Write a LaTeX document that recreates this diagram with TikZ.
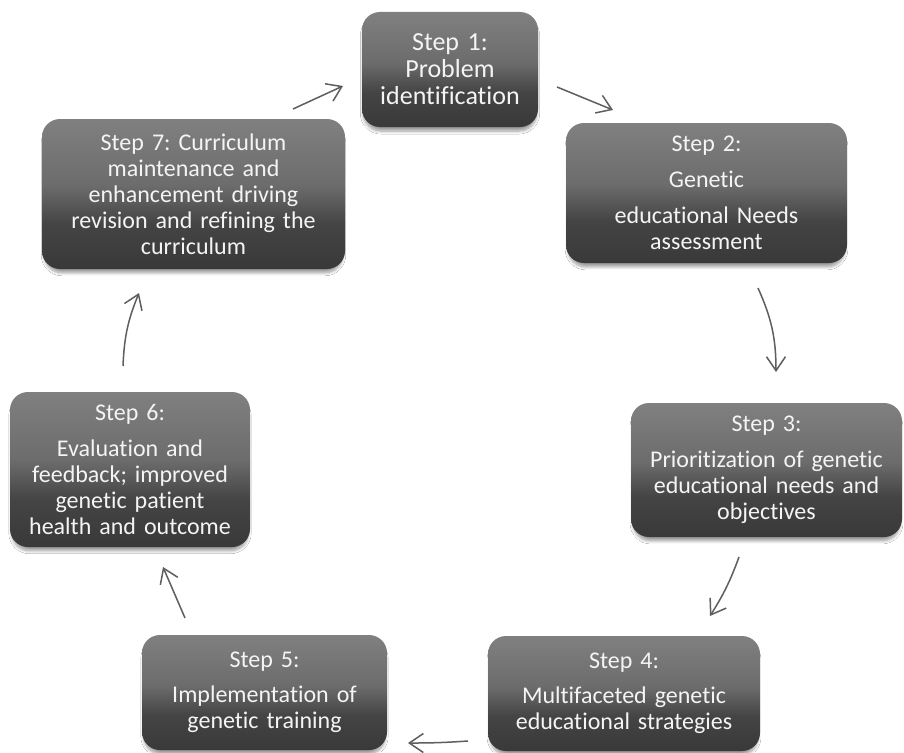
\documentclass[tikz,border=0pt]{standalone}
\usepackage{fontspec}
\setmainfont{Carlito}[Ligatures=NoCommon]
\usetikzlibrary{arrows.meta,shadows.blur}
\frenchspacing

\definecolor{boxdark}{HTML}{393939}
\definecolor{boxmid}{HTML}{444444}
\definecolor{boxlight}{HTML}{6C6C6C}
\definecolor{boxtop}{HTML}{808080}
\definecolor{boxtext}{HTML}{F4F4F4}
\definecolor{conncol}{HTML}{5E5E5E}

% vertical gradient: dark lower part, lighter upper part
\pgfdeclareverticalshading{stepshade}{100bp}{%
  color(0bp)=(boxdark); color(25bp)=(boxdark); color(40bp)=(boxmid);
  color(53bp)=(boxlight); color(75bp)=(boxtop); color(100bp)=(boxtop)}

\tikzset{
  stepbox/.style={rounded corners=18pt, shading=stepshade,
    blur shadow={shadow xshift=0pt, shadow yshift=-5pt, shadow scale=0.985,
      shadow opacity=40, shadow blur radius=3pt, shadow blur steps=8},
    text=boxtext, align=center, inner sep=0pt,
    font=\fontsize{24}{26}\selectfont},
  conn/.style={draw=conncol, line width=1.5pt,
    -{Straight Barb[length=14pt, width=19pt, line width=1.5pt]}}
}

\begin{document}
\begin{tikzpicture}[x=1pt, y=-1pt]
  \useasboundingbox[fill=white] (0,0) rectangle (904,752);

  % the seven steps of the cycle
  \node[stepbox, minimum width=176pt, minimum height=115pt, text width=170pt,
        font=\fontsize{26}{27}\selectfont] (s1) at (450,69.5)
    {Step 1:\\Problem\\identification};
  \node[stepbox, minimum width=281pt, minimum height=140pt, text width=270pt] (s2) at (706.5,193)
    {Step 2:\\[10pt]Genetic\\[10pt]educational Needs\\assessment};
  \node[stepbox, minimum width=271pt, minimum height=134pt, text width=265pt] (s3) at (766.5,470)
    {Step 3:\\[10pt]Prioritization of genetic\\educational needs and\\objectives};
  \node[stepbox, minimum width=272pt, minimum height=115pt, text width=265pt] (s4) at (624,693.5)
    {Step 4:\\[9pt]Multifaceted genetic\\educational strategies};
  \node[stepbox, minimum width=245pt, minimum height=115pt, text width=240pt] (s5) at (264.5,692.5)
    {Step 5:\\[9pt]Implementation of\\genetic training};
  \node[stepbox, minimum width=240pt, minimum height=155pt, text width=235pt] (s6) at (130,469.5)
    {Step 6:\\[10pt]Evaluation and\\feedback; improved\\genetic patient\\health and outcome};
  \node[stepbox, minimum width=303pt, minimum height=150pt, text width=298pt] (s7) at (193.5,194)
    {Step 7: Curriculum\\maintenance and\\enhancement driving\\revision and refining the\\curriculum};

  % connector end points between neighbouring steps
  \coordinate (a12) at (557,87);   \coordinate (b12) at (613,110);
  \coordinate (a23) at (758,288);  \coordinate (b23) at (776,372);
  \coordinate (a34) at (739,557);  \coordinate (b34) at (710,616);
  \coordinate (a45) at (468,741);  \coordinate (b45) at (408,743);
  \coordinate (a56) at (185,618);  \coordinate (b56) at (163,567);
  \coordinate (a67) at (123,366);  \coordinate (b67) at (139,293);
  \coordinate (a71) at (293,109);  \coordinate (b71) at (343,86);

  \draw[conn] (a12) -- (b12);
  \draw[conn] (a23) to[bend left=12] (b23);
  \draw[conn] (a34) to[bend left=6] (b34);
  \draw[conn] (a45) to[bend left=2] (b45);
  \draw[conn] (a56) -- (b56);
  \draw[conn] (a67) to[bend left=10] (b67);
  \draw[conn] (a71) -- (b71);
\end{tikzpicture}
\end{document}
